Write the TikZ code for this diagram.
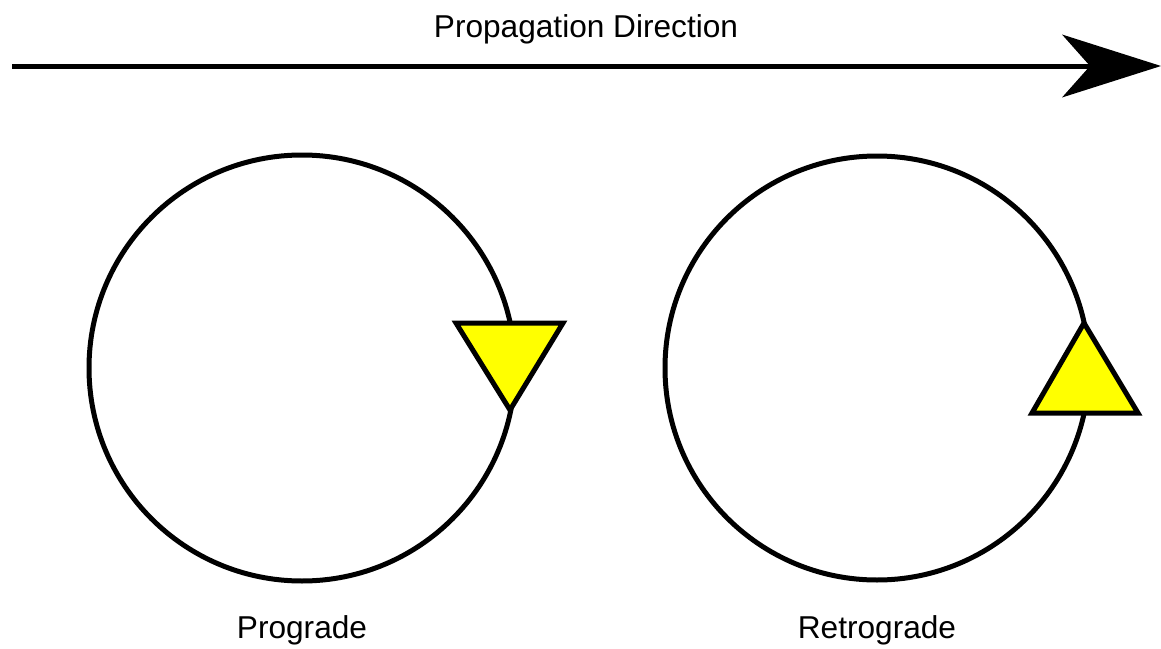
\documentclass[tikz,border=0pt]{standalone}
\usepackage{fontspec}
\setmainfont{Liberation Sans}
\usepackage{xcolor}
\usetikzlibrary{arrows.meta}
\definecolor{tipyellow}{RGB}{255,255,0}
\tikzset{
  orbit/.style = {draw=black, line width=0.1cm},
  marker/.style = {draw=black, fill=tipyellow, line width=0.1cm, line join=miter},
  label/.style = {anchor=base, font=\fontsize{18}{22}\selectfont, inner sep=0pt},
  prop/.style = {line width=0.1cm, -{Stealth[length=1.98cm, width=1.26cm, inset=0.56cm, line width=0pt]}},
}

\begin{document}
\begin{tikzpicture}[x=0.02cm, y=-0.02cm]
  \useasboundingbox (0,0) rectangle (1161,649);
  % direction arrow
  \coordinate (start) at (12,66);
  \coordinate (tip) at (1161,66);
  \draw[prop] (start) -- (tip);
  \node[label] (dir) at (586,37) {Propagation Direction};

  % prograde
  \coordinate (pc) at (302,368);
  \draw[orbit] (pc) circle[radius=213];
  \draw[marker] (456,323) -- (563,323) -- (510,410) -- cycle;
  \node[label] (pro) at (302,638) {Prograde};

  % retrograde
  \coordinate (rc) at (877,368);
  \draw[orbit] (rc) circle[radius=212];
  \draw[marker] (1084,323) -- (1138,413) -- (1032,413) -- cycle;
  \node[label] (retro) at (877,638) {Retrograde};
\end{tikzpicture}
\end{document}
